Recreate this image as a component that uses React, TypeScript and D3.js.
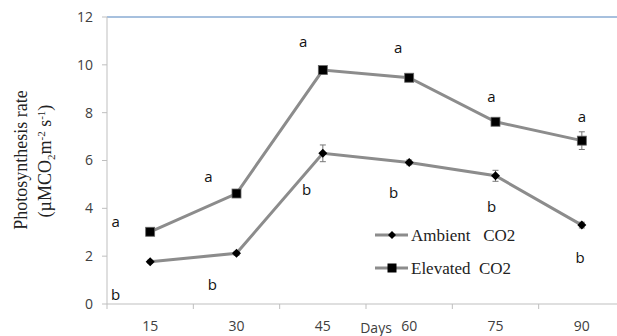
import React from 'react';
import * as d3 from 'd3';

const days = [15, 30, 45, 60, 75, 90];
const ambient = [1.77, 2.12, 6.3, 5.92, 5.36, 3.3];
const ambientErr = [0.06, 0.08, 0.35, 0.1, 0.23, 0.12];
const elevated = [3.02, 4.62, 9.78, 9.46, 7.62, 6.83];
const elevatedErr = [0.1, 0.1, 0.1, 0.1, 0.12, 0.37];
const yTicks = [0, 2, 4, 6, 8, 10, 12];

// significance letters: position in [day, value]
const letterA = ['a', 'a', 'a', 'a', 'a', 'a'];
const letterADay = [9.0, 25.1, 41.6, 58.1, 74.3, 90.0];
const letterAVal = [3.43, 5.31, 10.95, 10.7, 8.65, 7.82];
const letterB = ['b', 'b', 'b', 'b', 'b', 'b'];
const letterBDay = [9.0, 25.8, 42.2, 57.3, 74.3, 89.7];
const letterBVal = [0.38, 0.79, 4.77, 4.64, 4.06, 1.92];

const W = 617, H = 336;
const left = 107, right = 625, top = 17, bottom = 304;
const sansFont = "'Open Sans', 'Noto Sans', sans-serif";
const serifFont = "'Liberation Serif', 'DejaVu Serif', serif";

export default function App() {
  const x = d3.scaleLinear().domain([7.5, 97.5]).range([left, right]);
  const y = d3.scaleLinear().domain([0, 12]).range([bottom, top]);
  const line = d3.line<number>().x((_, i) => x(days[i])).y(d => y(d));
  const catBounds = d3.range(7).map(i => 7.5 + i * 15);
  const lineColor = '#8c8c8c';

  const diamond = (cx: number, cy: number, r: number) =>
    `M${cx},${cy - r}L${cx + r},${cy}L${cx},${cy + r}L${cx - r},${cy}Z`;

  return (
    <svg width={W} height={H} style={{ position: 'absolute', left: 0, top: 0, background: '#fff' }}>
      {/* top border */}
      <line x1={left} x2={W} y1={top} y2={top} stroke="#4f81bd" strokeWidth={1} />
      {/* y axis */}
      <line x1={left} x2={left} y1={top} y2={bottom} stroke="#bfbfbf" />
      {yTicks.map(t => (
        <g key={t}>
          <line x1={left - 5} x2={left} y1={y(t)} y2={y(t)} stroke="#bfbfbf" />
          <text x={93} y={y(t)} dy="0.35em" textAnchor="end" fontFamily={sansFont} fontSize={14} fill="#404040">{t}</text>
        </g>
      ))}
      {/* x axis */}
      <line x1={left} x2={W} y1={bottom} y2={bottom} stroke="#bfbfbf" />
      {catBounds.map(b => (
        <line key={b} x1={x(b)} x2={x(b)} y1={bottom} y2={bottom + 5} stroke="#bfbfbf" />
      ))}
      {days.map(d => (
        <text key={d} x={x(d)} y={326} dy="0.35em" textAnchor="middle" fontFamily={sansFont} fontSize={14} fill="#404040">{d}</text>
      ))}
      <text x={376} y={328} dy="0.35em" textAnchor="middle" fontFamily={sansFont} fontSize={14} fill="#404040">Days</text>

      {/* y title */}
      <g transform={`translate(21,160) rotate(-90)`}>
        <text x={0} y={0} dy="0.35em" textAnchor="middle" fontFamily={serifFont} fontSize={18} fill="#222">Photosynthesis rate</text>
      </g>
      <g transform={`translate(45,161) rotate(-90)`}>
        <text x={0} y={0} dy="0.35em" textAnchor="middle" fontFamily={serifFont} fontSize={18} fill="#222">
          (µMCO<tspan fontSize={11} dy="4">2</tspan><tspan dy="-4">m</tspan><tspan fontSize={11} dy="-6">-2</tspan><tspan dy="6"> s</tspan><tspan fontSize={11} dy="-6">-1</tspan><tspan dy="6">)</tspan>
        </text>
      </g>

      {/* series lines */}
      <path d={line(elevated) || ''} fill="none" stroke={lineColor} strokeWidth={3} />
      <path d={line(ambient) || ''} fill="none" stroke={lineColor} strokeWidth={3} />

      {/* error bars */}
      {ambient.map((v, i) => (
        <g key={'ae' + i} stroke="#777" strokeWidth={1}>
          <line x1={x(days[i])} x2={x(days[i])} y1={y(v - ambientErr[i])} y2={y(v + ambientErr[i])} />
          <line x1={x(days[i]) - 3} x2={x(days[i]) + 3} y1={y(v - ambientErr[i])} y2={y(v - ambientErr[i])} />
          <line x1={x(days[i]) - 3} x2={x(days[i]) + 3} y1={y(v + ambientErr[i])} y2={y(v + ambientErr[i])} />
        </g>
      ))}
      {elevated.map((v, i) => (
        <g key={'ee' + i} stroke="#777" strokeWidth={1}>
          <line x1={x(days[i])} x2={x(days[i])} y1={y(v - elevatedErr[i])} y2={y(v + elevatedErr[i])} />
          <line x1={x(days[i]) - 3} x2={x(days[i]) + 3} y1={y(v - elevatedErr[i])} y2={y(v - elevatedErr[i])} />
          <line x1={x(days[i]) - 3} x2={x(days[i]) + 3} y1={y(v + elevatedErr[i])} y2={y(v + elevatedErr[i])} />
        </g>
      ))}

      {/* markers */}
      {elevated.map((v, i) => (
        <rect key={'es' + i} x={x(days[i]) - 4.5} y={y(v) - 4.5} width={9} height={9} fill="#000" stroke="#666" strokeWidth={0.8} />
      ))}
      {ambient.map((v, i) => (
        <path key={'ad' + i} d={diamond(x(days[i]), y(v), 4.5)} fill="#000" />
      ))}

      {/* letters */}
      {letterA.map((l, i) => (
        <text key={'la' + i} x={x(letterADay[i])} y={y(letterAVal[i])} dy="0.35em" textAnchor="middle" fontFamily={sansFont} fontSize={15} fill="#111">{l}</text>
      ))}
      {letterB.map((l, i) => (
        <text key={'lb' + i} x={x(letterBDay[i])} y={y(letterBVal[i])} dy="0.35em" textAnchor="middle" fontFamily={sansFont} fontSize={15} fill="#111">{l}</text>
      ))}

      {/* legend */}
      <g>
        <line x1={375} x2={408} y1={235} y2={235} stroke={lineColor} strokeWidth={3} />
        <path d={diamond(392, 235, 4)} fill="#000" />
        <text x={411} y={235} dy="0.35em" fontFamily={serifFont} fontSize={17} fill="#222" style={{ whiteSpace: 'pre' }}>Ambient   CO2</text>
        <line x1={375} x2={408} y1={268} y2={268} stroke={lineColor} strokeWidth={3} />
        <rect x={387.5} y={263.5} width={9} height={9} fill="#000" />
        <text x={411} y={268} dy="0.35em" fontFamily={serifFont} fontSize={17} fill="#222" style={{ whiteSpace: 'pre' }}>Elevated  CO2</text>
      </g>
    </svg>
  );
}
